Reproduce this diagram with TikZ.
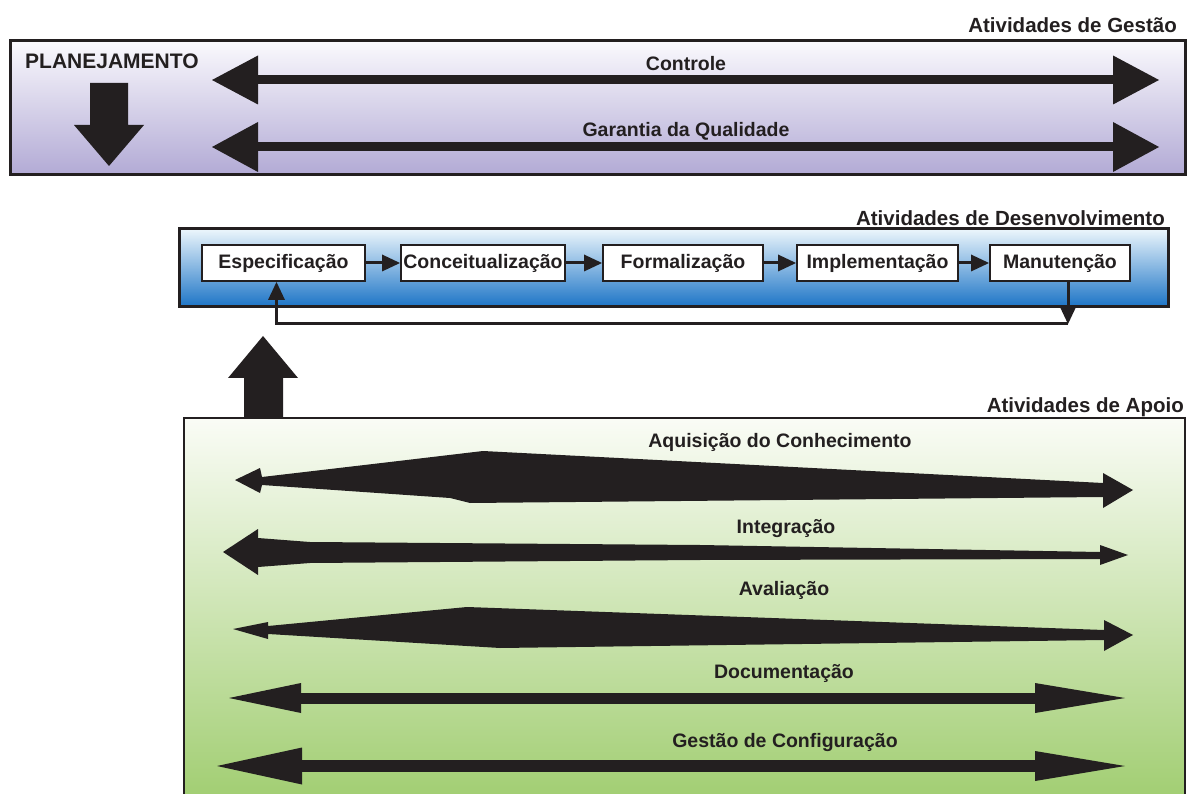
\documentclass[tikz,border=0pt]{standalone}
\usepackage{fontspec}
\setmainfont{Liberation Sans}
\usetikzlibrary{arrows.meta}

\definecolor{tinta}{RGB}{35,31,32}
\definecolor{lilasclaro}{RGB}{250,249,253}
\definecolor{lilas}{RGB}{178,170,213}
\definecolor{azulclaro}{RGB}{236,246,252}
\definecolor{azul}{RGB}{28,116,198}
\definecolor{verdeclaro}{RGB}{250,252,246}
\definecolor{verde}{RGB}{160,205,112}

\tikzset{
  rotulo/.style={font=\bfseries\fontsize{19.5}{22}\selectfont,text=tinta,inner sep=0pt,anchor=base},
  titulo/.style={font=\bfseries\fontsize{20.5}{24}\selectfont,text=tinta,inner sep=0pt,anchor=base east},
  etapa/.style={draw=tinta,line width=2pt,fill=white,minimum height=36pt,inner sep=0pt,
    font=\bfseries\fontsize{19.5}{22}\selectfont,text=tinta},
  setafina/.style={draw=tinta,line width=3pt,-{Triangle[length=18pt,width=17pt,line width=0pt]}},
  caixa/.style={draw=tinta,line width=3pt}
}

\begin{document}
\begin{tikzpicture}[x=1pt,y=-1pt]
  \useasboundingbox (0,0) rectangle (1187,794);

  % atividades de gestao
  \draw[caixa,top color=lilasclaro,bottom color=lilas] (10,41) rectangle (1185,175);
  \node[titulo] (tgestao) at (1177,33) {Atividades de Gestão};
  \node[rotulo,anchor=base west,font=\bfseries\fontsize{21}{24}\selectfont] (plan) at (25,69) {PLANEJAMENTO};
  \fill[tinta] (90,83) -- (128,83) -- (128,125) -- (144,125) -- (109,166)
    -- (74,125) -- (90,125) -- cycle;
  \draw[tinta,line width=9pt,
    {Triangle[length=46pt,width=49pt,line width=0pt]}-{Triangle[length=46pt,width=49pt,line width=0pt]}]
    (212,80) -- (1159,80);
  \node[rotulo] (ctrl) at (686,71) {Controle};
  \draw[tinta,line width=9pt,
    {Triangle[length=46pt,width=50pt,line width=0pt]}-{Triangle[length=46pt,width=50pt,line width=0pt]}]
    (212,147) -- (1159,147);
  \node[rotulo] (garq) at (686,137) {Garantia da Qualidade};

  % atividades de desenvolvimento
  \draw[caixa,top color=azulclaro,bottom color=azul] (179,229) rectangle (1168,307);
  \node[titulo] (tdesenv) at (1165,226) {Atividades de Desenvolvimento};
  \node[etapa,minimum width=163pt] (esp) at (283.5,263) {Especificação};
  \node[etapa,minimum width=164pt] (conc) at (483,263) {Conceitualização};
  \node[etapa,minimum width=160pt] (form) at (683,263) {Formalização};
  \node[etapa,minimum width=161pt] (impl) at (877.5,263) {Implementação};
  \node[etapa,minimum width=140pt] (manu) at (1060,263) {Manutenção};
  \draw[setafina] (esp) -- (conc);
  \draw[setafina] (conc) -- (form);
  \draw[setafina] (form) -- (impl);
  \draw[setafina] (impl) -- (manu);
  % retorno da manutencao
  \coordinate (canto) at (1068,324);
  \draw[setafina] ([xshift=8pt]manu.south) -- (canto);
  \draw[setafina] (canto) -| ([xshift=-7pt]esp.south);

  % seta grande para cima
  \fill[tinta] (244,418) -- (244,378) -- (228,378) -- (263,336) -- (298,378)
    -- (283,378) -- (283,418) -- cycle;

  % atividades de apoio
  \draw[draw=tinta,line width=2.5pt,top color=verdeclaro,bottom color=verde] (184,418) rectangle (1185,805);
  \node[titulo] (tapoio) at (1184,413) {Atividades de Apoio};

  \node[rotulo] (aquis) at (780,448) {Aquisição do Conhecimento};
  \fill[tinta] (235,480) -- (260,468) -- (262,477) -- (390,462) -- (483,451)
    -- (1103,483) -- (1103,473) -- (1133,490) -- (1103,508) -- (1103,497)
    -- (470,503) -- (450,498) -- (262,485) -- (260,493) -- cycle;

  \node[rotulo] (integ) at (786,533) {Integração};
  \fill[tinta] (223,552) -- (258,529) -- (258,538) -- (310,542) -- (700,545)
    -- (1100,552) -- (1100,545) -- (1128,555) -- (1100,565) -- (1100,559)
    -- (700,560) -- (310,563) -- (258,567) -- (258,575) -- cycle;

  \node[rotulo] (aval) at (784,595) {Avaliação};
  \fill[tinta] (233,629) -- (268,622) -- (268,626) -- (467,607) -- (1104,630)
    -- (1104,620) -- (1133,635) -- (1104,651) -- (1104,640) -- (500,648)
    -- (268,634) -- (268,639) -- cycle;

  \node[rotulo] (docum) at (784,678) {Documentação};
  \draw[tinta,line width=11pt,
    {Triangle[length=72pt,width=30pt,line width=0pt]}-{Triangle[length=90pt,width=30pt,line width=0pt]}]
    (229,698) -- (1125,698);

  \node[rotulo] (gconf) at (785,747) {Gestão de Configuração};
  \draw[tinta,line width=12pt,
    {Triangle[length=85pt,width=37pt,line width=0pt]}-{Triangle[length=90pt,width=30pt,line width=0pt]}]
    (217,766) -- (1125,766);
\end{tikzpicture}
\end{document}
